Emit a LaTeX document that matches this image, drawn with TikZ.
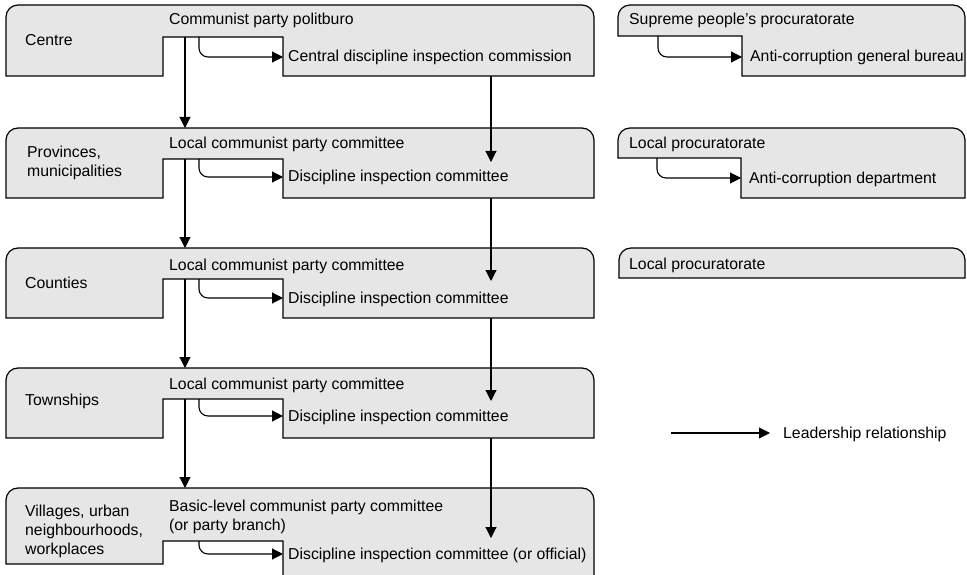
\documentclass[tikz,border=0pt]{standalone}
\usepackage{fontspec}
\setmainfont{Liberation Sans}
\usetikzlibrary{arrows.meta}
\definecolor{boxgray}{HTML}{E6E6E6}
\tikzset{
  boxshape/.style={draw=black, fill=boxgray, line width=1.2pt, line join=miter},
  lead/.style={draw=black, line width=1.1pt, -{Triangle[length=11pt,width=11pt]}},
  lbl/.style={anchor=base west, inner sep=0pt, font=\fontsize{15.8}{19}\selectfont},
}
% #1 name, #2 top, #3 notch top, #4 left bottom, #5 right bottom, #6 curved arrow y, #7 right arrow tip y
\newcommand\notchbox[7]{%
  \path[boxshape] (6,#4) -- (6,#2+12) arc[start angle=180,end angle=270,radius=12]
    -- (582,#2) arc[start angle=270,end angle=360,radius=12]
    -- (594,#5) -- (283,#5) -- (283,#3) -- (163,#3) -- (163,#4) -- cycle;
  \coordinate (#1-top) at (185,#2);
  \coordinate (#1-nl) at (185,#3);
  \coordinate (#1-cs) at (199,#3);
  \coordinate (#1-ce) at (283,#6);
  \coordinate (#1-bot) at (491,#5);
  \coordinate (#1-in) at (491,#7);
}
\begin{document}
\begin{tikzpicture}[x=1pt,y=-1pt]
\useasboundingbox (0,0) rectangle (967,575);
\clip (0,0) rectangle (967,575);

% main column boxes
\notchbox{cen}{5}{37}{76}{76}{57}{39}
\notchbox{pro}{128}{159}{198}{198}{177}{162}
\notchbox{cou}{248}{279}{318}{318}{298}{281}
\notchbox{tow}{368}{399}{438}{438}{416}{401}
\notchbox{vil}{488}{541}{564}{600}{554}{538}

% procuratorate boxes
\path[boxshape] (618,36) -- (618,17) arc[start angle=180,end angle=270,radius=12]
  -- (953,5) arc[start angle=270,end angle=360,radius=12] -- (965,76) -- (742,76) -- (742,36) -- cycle;
\coordinate (spp-cs) at (658,36);
\coordinate (spp-ce) at (742,57);
\path[boxshape] (618,158) -- (618,140) arc[start angle=180,end angle=270,radius=12]
  -- (953,128) arc[start angle=270,end angle=360,radius=12] -- (965,198) -- (741,198) -- (741,158) -- cycle;
\coordinate (lp-cs) at (657,158);
\coordinate (lp-ce) at (741,178);
\path[boxshape] (619,278) -- (619,260) arc[start angle=180,end angle=270,radius=12]
  -- (953,248) arc[start angle=270,end angle=360,radius=12] -- (965,278) -- cycle;

% texts: centre
\node[lbl] (t1) at (169,25) {Communist party politburo};
\node[lbl] (d1) at (288,62) {Central discipline inspection commission};
\node[lbl] (l1) at (25,46) {Centre};
% provinces
\node[lbl] (t2) at (169,149) {Local communist party committee};
\node[lbl] (d2) at (288,182) {Discipline inspection committee};
\node[lbl] (l2a) at (27,158) {Provinces,};
\node[lbl] (l2b) at (27,177) {municipalities};
% counties
\node[lbl] (t3) at (169,270) {Local communist party committee};
\node[lbl] (d3) at (288,303) {Discipline inspection committee};
\node[lbl] (l3) at (25,288) {Counties};
% townships
\node[lbl] (t4) at (169,389) {Local communist party committee};
\node[lbl] (d4) at (288,421) {Discipline inspection committee};
\node[lbl] (l4) at (25,405) {Townships};
% villages
\node[lbl] (t5a) at (169,511) {Basic-level communist party committee};
\node[lbl] (t5b) at (169,530) {(or party branch)};
\node[lbl] (d5) at (288,559) {Discipline inspection committee (or official)};
\node[lbl] (l5a) at (25,516) {Villages, urban};
\node[lbl] (l5b) at (25,535) {neighbourhoods,};
\node[lbl] (l5c) at (25,554) {workplaces};
% procuratorates
\node[lbl] (p1) at (629,25) {Supreme people’s procuratorate};
\node[lbl] (p1d) at (750,62) {Anti-corruption general bureau};
\node[lbl] (p2) at (629,149) {Local procuratorate};
\node[lbl] (p2d) at (749,183) {Anti-corruption department};
\node[lbl] (p3) at (629,269) {Local procuratorate};

% left vertical arrows
\draw[lead] (cen-nl) -- (pro-top);
\draw[lead] (pro-nl) -- (cou-top);
\draw[lead] (cou-nl) -- (tow-top);
\draw[lead] (tow-nl) -- (vil-top);
% right vertical arrows
\draw[lead] (cen-bot) -- (pro-in);
\draw[lead] (pro-bot) -- (cou-in);
\draw[lead] (cou-bot) -- (tow-in);
\draw[lead] (tow-bot) -- (vil-in);
% curved arrows
\foreach \r in {cen,pro,cou,tow,vil}{
  \draw[lead, rounded corners=9pt] (\r-cs) |- (\r-ce);
}
\draw[lead, rounded corners=9pt] (spp-cs) |- (spp-ce);
\draw[lead, rounded corners=9pt] (lp-cs) |- (lp-ce);

% legend
\coordinate (lg-a) at (671,433);
\coordinate (lg-b) at (770,433);
\draw[lead] (lg-a) -- (lg-b);
\node[lbl] (lg) at (783,438) {Leadership relationship};
\end{tikzpicture}
\end{document}
